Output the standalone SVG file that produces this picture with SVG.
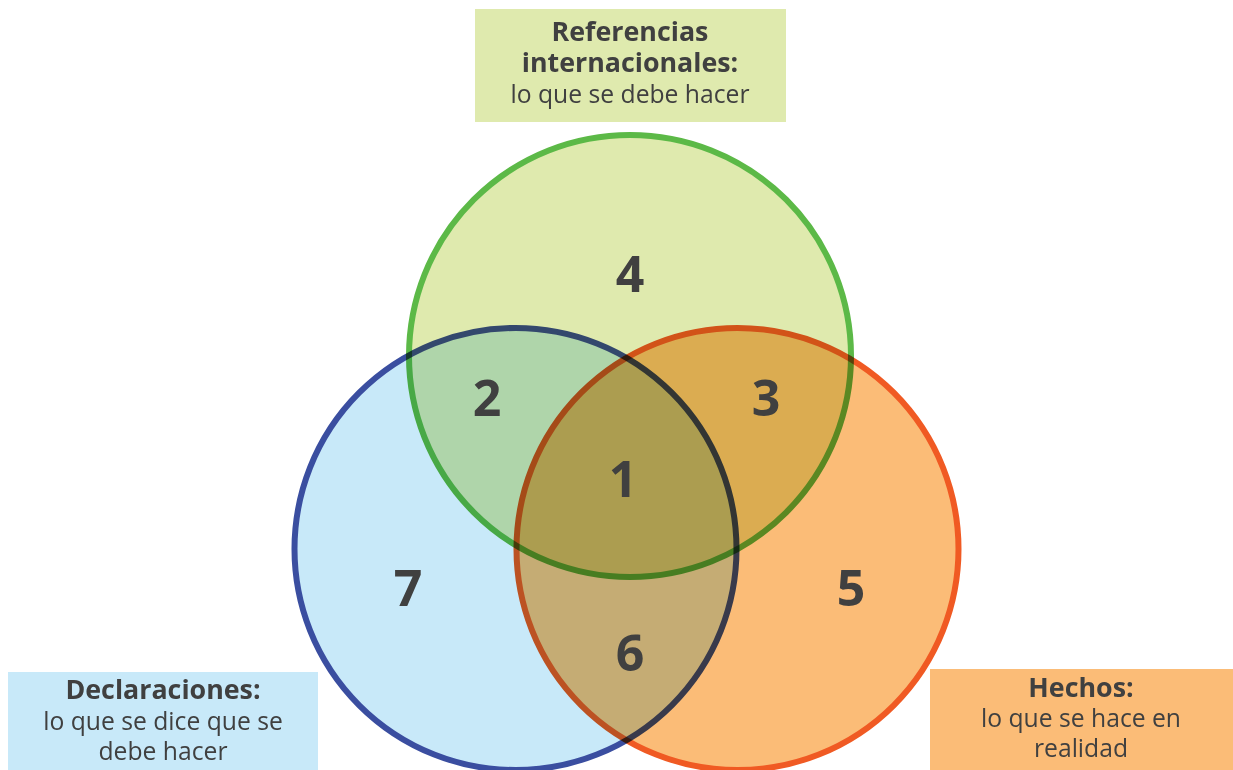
<svg xmlns="http://www.w3.org/2000/svg" width="1233" height="770" viewBox="0 0 1233 770">
  <style>
    .set { mix-blend-mode: multiply; stroke-width: 6; }
    .label { font-family: "Open Sans", "Noto Sans", sans-serif; fill: #404040; text-anchor: middle; font-size: 24.7px; }
    .label .b { font-weight: 700; font-size: 26.8px; }
    .num { font-family: "Open Sans", "Noto Sans", sans-serif; fill: #404040; text-anchor: middle; font-size: 50px; font-weight: 700; }
  </style>
  <rect width="1233" height="770" fill="#ffffff"/>

  <!-- the three overlapping sets, blended so overlaps darken -->
  <g id="sets" style="isolation: isolate">
    <circle id="set-referencias" class="set" cx="630" cy="356" r="221" fill="#dfeaae" stroke="#5cb947"/>
    <circle id="set-declaraciones" class="set" cx="515.5" cy="549" r="221" fill="#c8e9f9" stroke="#3a4ea0"/>
    <circle id="set-hechos" class="set" cx="737.5" cy="549" r="221" fill="#fbbc77" stroke="#f05a23"/>
  </g>

  <!-- region numbers -->
  <g id="regions">
    <text class="num" x="630" y="292">4</text>
    <text class="num" x="487" y="416">2</text>
    <text class="num" x="766" y="416">3</text>
    <text class="num" x="623" y="497">1</text>
    <text class="num" x="408" y="606">7</text>
    <text class="num" x="851" y="606">5</text>
    <text class="num" x="630" y="671">6</text>
  </g>

  <!-- legend boxes -->
  <g id="box-referencias">
    <rect x="475" y="9" width="311" height="113" fill="#dfeaae"/>
    <text class="label" x="630"><tspan class="b" x="630" y="41">Referencias</tspan><tspan class="b" x="630" y="72">internacionales:</tspan><tspan x="630" y="103">lo que se debe hacer</tspan></text>
  </g>
  <g id="box-declaraciones">
    <rect x="8" y="672" width="310" height="98" fill="#c8e9f9"/>
    <text class="label" x="163"><tspan class="b" x="163" y="699">Declaraciones:</tspan><tspan x="163" y="730">lo que se dice que se</tspan><tspan x="163" y="760">debe hacer</tspan></text>
  </g>
  <g id="box-hechos">
    <rect x="930" y="669" width="303" height="101" fill="#fbbc77"/>
    <text class="label" x="1081"><tspan class="b" x="1081" y="697">Hechos:</tspan><tspan x="1081" y="727">lo que se hace en</tspan><tspan x="1081" y="757">realidad</tspan></text>
  </g>
</svg>
